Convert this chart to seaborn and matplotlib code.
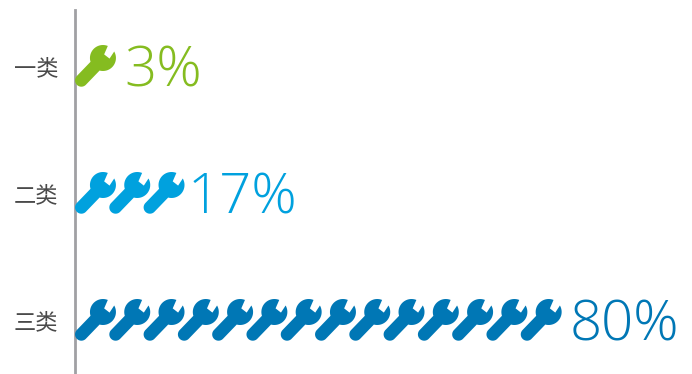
import matplotlib
matplotlib.use("Agg")
import matplotlib.pyplot as plt
from matplotlib.markers import MarkerStyle
from matplotlib.path import Path
from matplotlib.transforms import ScaledTranslation
import numpy as np
import pandas as pd
import seaborn as sns

categories = ["一类", "二类", "三类"]
percent = [3, 17, 80]
colors = ["#85bc20", "#00a1de", "#0077b5"]
percent_per_wrench = 80 / 14
label_gaps_px = [15, 10, 15]


def wrench_path():
    """Closed wrench outline in pixels, y up, origin at the centre of a symbol cell."""
    head = np.array([10.8, 9.0])
    tail = np.array([-10.8, -13.4])
    radius, half_w = 13.0, 6.3
    d = (tail - head) / np.linalg.norm(tail - head)
    n = np.array([-d[1], d[0]])
    base_angle = np.arctan2(d[1], d[0])
    offset = np.arcsin(half_w / radius)

    def arc(c, r, a0, a1, k=24):
        t = np.linspace(a0, a1, k)
        return np.column_stack([c[0] + r * np.cos(t), c[1] + r * np.sin(t)])

    # Clockwise round the head from the lower jaw tip to the handle
    jaw_low = np.radians(30.0)
    jaw_high = np.radians(68.0)
    lower = arc(head, radius, jaw_low, base_angle + offset)
    # Rounded end of the handle
    cap_mid = np.arctan2(n[1], n[0])
    cap = arc(tail, half_w, cap_mid, cap_mid - np.pi)
    # Continue round the back of the head to the upper jaw tip
    upper = arc(head, radius, base_angle - offset, jaw_high - 2 * np.pi)
    notch = head + np.array([[1.2, 3.6], [6.6, -0.6]])
    verts = np.vstack([lower, cap, upper, notch, lower[:1]])
    codes = [Path.MOVETO] + [Path.LINETO] * (len(verts) - 2) + [Path.CLOSEPOLY]
    return Path(verts, codes)


wrench = wrench_path()
marker = MarkerStyle(wrench)

# One row per wrench: each symbol stands for a fixed share of the total
rows = []
for cat, value in zip(categories, percent):
    n_sym = int(np.ceil(value / percent_per_wrench))
    for i in range(n_sym):
        rows.append({"category": cat, "x": (i + 0.5) * percent_per_wrench})
df = pd.DataFrame(rows)

sns.set_theme(style="white")
plt.rcParams["font.family"] = ["Noto Sans CJK SC", "DejaVu Sans"]

W, H, DPI = 692, 374, 100
fig = plt.figure(figsize=(W / DPI, H / DPI), dpi=DPI, facecolor="white")
ax = fig.add_axes([75 / W, 0, (W - 75) / W, 1 - 10 / H])
ax.set_facecolor("none")

scale = np.abs(wrench.vertices).max()
size_pt = 2 * scale * 72 / DPI
sns.scatterplot(
    data=df, x="x", y="category", hue="category", hue_order=categories,
    palette=colors, marker=marker, s=size_pt ** 2, linewidth=0, legend=False,
    ax=ax, clip_on=False, zorder=3,
)

ax.set_xlim(0, (W - 75) / 6.0)
# Rows sit 127 px apart; first row centre is 57 px below the top of the axes
ax.set_ylim((364 - 57) / 127, -57 / 127)
ax.set_xlabel("")
ax.set_ylabel("")
ax.set_xticks([])
ax.set_yticks(range(3), categories)
ax.tick_params(axis="y", length=0, pad=12, labelsize=16, labelcolor="#4a4a4a")
nudge = ScaledTranslation(0, 1 / DPI, fig.dpi_scale_trans)
for lab in ax.get_yticklabels():
    lab.set_fontweight("light")
    lab.set_verticalalignment("center_baseline")
    lab.set_transform(lab.get_transform() + nudge)

for side in ("top", "right", "bottom"):
    ax.spines[side].set_visible(False)
ax.spines["left"].set_color("#a0a0a4")
ax.spines["left"].set_linewidth(2.0)

# Percent labels placed just past the last wrench of each row
for i, (value, color, gap) in enumerate(zip(percent, colors, label_gaps_px)):
    n_sym = int(np.ceil(value / percent_per_wrench))
    ax.annotate(
        f"{value}%", xy=(n_sym * percent_per_wrench, i), xytext=(gap * 72 / DPI, 1.0),
        textcoords="offset points", va="center_baseline", ha="left", color=color,
        fontsize=40.5, family=["Open Sans", "DejaVu Sans"], fontweight="light",
    )

fig.savefig("out.png", dpi=DPI)
